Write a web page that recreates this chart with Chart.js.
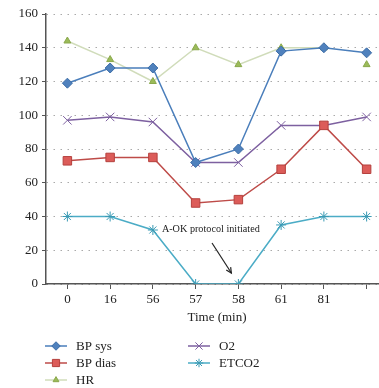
<!DOCTYPE html>
<html>
<head>
<meta charset="utf-8">
<script src="https://cdn.jsdelivr.net/npm/chart.js@4/dist/chart.umd.min.js"></script>
<style>
html,body{margin:0;padding:0;overflow:hidden;background:#fff;width:379px;height:388px;}
#wrap{position:relative;width:395px;height:388px;}
</style>
</head>
<body>
<div id="wrap"><canvas id="c" width="395" height="388"></canvas></div>
<script>
const categories = ["0","16","56","57","58","61","81",""];
const bpSys  = [119,128,128,72,80,138,140,137];
const bpDias = [73,75,75,48,50,68,94,68];
const hr     = [144,133,120,140,130,140,140,130];
const o2     = [97,99,96,72,72,94,94,99];
const etco2  = [40,40,32,0,0,35,40,40];
const yTicks = [0,20,40,60,80,100,120,140,160];
const annotationText = "A-OK protocol initiated";

const FONT = "'Liberation Serif', 'DejaVu Serif', serif";

const legendPlugin = {
  id: 'colLegend',
  afterDraw(chart) {
    const ctx = chart.ctx;
    const ds = chart.data.datasets;
    const cols = [[0,1,2],[3,4]];
    const colX = [45, 188];
    const rowY = [chart.height - 42, chart.height - 25, chart.height - 8];
    ctx.save();
    ctx.font = "13px " + FONT;
    ctx.textBaseline = 'middle';
    ctx.fillStyle = '#222';
    cols.forEach((col, ci) => {
      col.forEach((di, ri) => {
        const d = ds[di];
        const x0 = colX[ci], y = rowY[ri];
        ctx.strokeStyle = d.borderColor;
        ctx.lineWidth = 1.5;
        ctx.beginPath(); ctx.moveTo(x0, y); ctx.lineTo(x0 + 22, y); ctx.stroke();
        ctx.fillStyle = d.pointBackgroundColor;
        ctx.strokeStyle = d.pointBorderColor;
        ctx.lineWidth = 1;
        Chart.helpers.drawPoint(ctx, {pointStyle: d.pointStyle, rotation: 0, radius: d.pointRadius * 0.85, borderWidth: 1}, x0 + 11, y);
        ctx.fillStyle = '#222';
        ctx.fillText(d.label, x0 + 31, y + 1);
      });
    });
    ctx.restore();
  }
};

const annotPlugin = {
  id: 'annot',
  afterDatasetsDraw(chart) {
    const xs = chart.scales.x, ys = chart.scales.y;
    const ctx = chart.ctx;
    ctx.save();
    ctx.font = "10.2px " + FONT;
    ctx.fillStyle = '#222';
    ctx.textBaseline = 'middle';
    ctx.textAlign = 'left';
    ctx.fillText(annotationText, xs.getPixelForValue(2) + 9, ys.getPixelForValue(32.5));
    const x1 = (xs.getPixelForValue(3) + xs.getPixelForValue(4)) / 2 - 5;
    const y1 = ys.getPixelForValue(24.3);
    const x2 = xs.getPixelForValue(4) - 7;
    const y2 = ys.getPixelForValue(6.5);
    ctx.strokeStyle = '#222';
    ctx.lineWidth = 1.2;
    ctx.beginPath(); ctx.moveTo(x1, y1); ctx.lineTo(x2, y2); ctx.stroke();
    const ang = Math.atan2(y2 - y1, x2 - x1);
    const L = 6;
    ctx.beginPath();
    ctx.moveTo(x2 - L * Math.cos(ang - 0.45), y2 - L * Math.sin(ang - 0.45));
    ctx.lineTo(x2, y2);
    ctx.lineTo(x2 - L * Math.cos(ang + 0.45), y2 - L * Math.sin(ang + 0.45));
    ctx.stroke();
    ctx.restore();
  }
};

function mk(label, data, line, fill, border, style, radius, extra) {
  return Object.assign({
    label, data,
    borderColor: line, borderWidth: 1.5,
    pointBackgroundColor: fill, pointBorderColor: border,
    pointStyle: style, pointRadius: radius, pointBorderWidth: 1,
    pointHoverRadius: radius, tension: 0, fill: false
  }, extra || {});
}

new Chart(document.getElementById('c'), {
  type: 'line',
  data: {
    labels: categories,
    datasets: [
      mk('BP sys', bpSys, '#4a7ebb', '#4f81bd', '#3d6da6', 'rectRot', 5),
      mk('BP dias', bpDias, '#be4b48', '#dc5c59', '#b5403d', 'rect', 6),
      mk('HR', hr, '#d0dcba', '#9bbb59', '#8aa84c', 'triangle', 4, {
        segment: { borderColor: c => c.p1DataIndex === 7 ? 'rgba(0,0,0,0)' : undefined }
      }),
      mk('O2', o2, '#7d60a0', '#7d60a0', '#7d60a0', 'crossRot', 6),
      mk('ETCO2', etco2, '#4bacc6', '#4bacc6', '#3a9ab4', 'star', 5)
    ]
  },
  options: {
    responsive: false,
    animation: false,
    layout: { padding: { top: 14, right: 3, bottom: 60, left: 0 } },
    plugins: { legend: { display: false }, tooltip: { enabled: false } },
    scales: {
      x: {
        type: 'category',
        offset: true,
        afterFit: s => { s.height = 44; },
        grid: { drawOnChartArea: false, offset: false, tickLength: 5, color: '#555', tickColor: '#555' },
        border: { color: '#555', width: 1.5 },
        ticks: { color: '#222', font: { family: FONT, size: 13 }, padding: 3, maxRotation: 0, autoSkip: false },
        title: { display: true, text: 'Time (min)', color: '#222', font: { family: FONT, size: 13 }, padding: { top: 3, bottom: 3 } }
      },
      y: {
        min: 0, max: 160,
        afterFit: s => { s.width = 46; },
        afterBuildTicks: s => { s.ticks = yTicks.map(v => ({ value: v })); },
        grid: { color: '#aaaaaa', lineWidth: 1, tickLength: 4, tickColor: '#555', tickBorderDash: [] },
        border: { color: '#555', width: 1.5, dash: [1.5, 5.5] },
        ticks: { color: '#222', font: { family: FONT, size: 13 }, padding: 4 }
      }
    }
  },
  plugins: [annotPlugin, legendPlugin]
});
</script>
</body>
</html>
